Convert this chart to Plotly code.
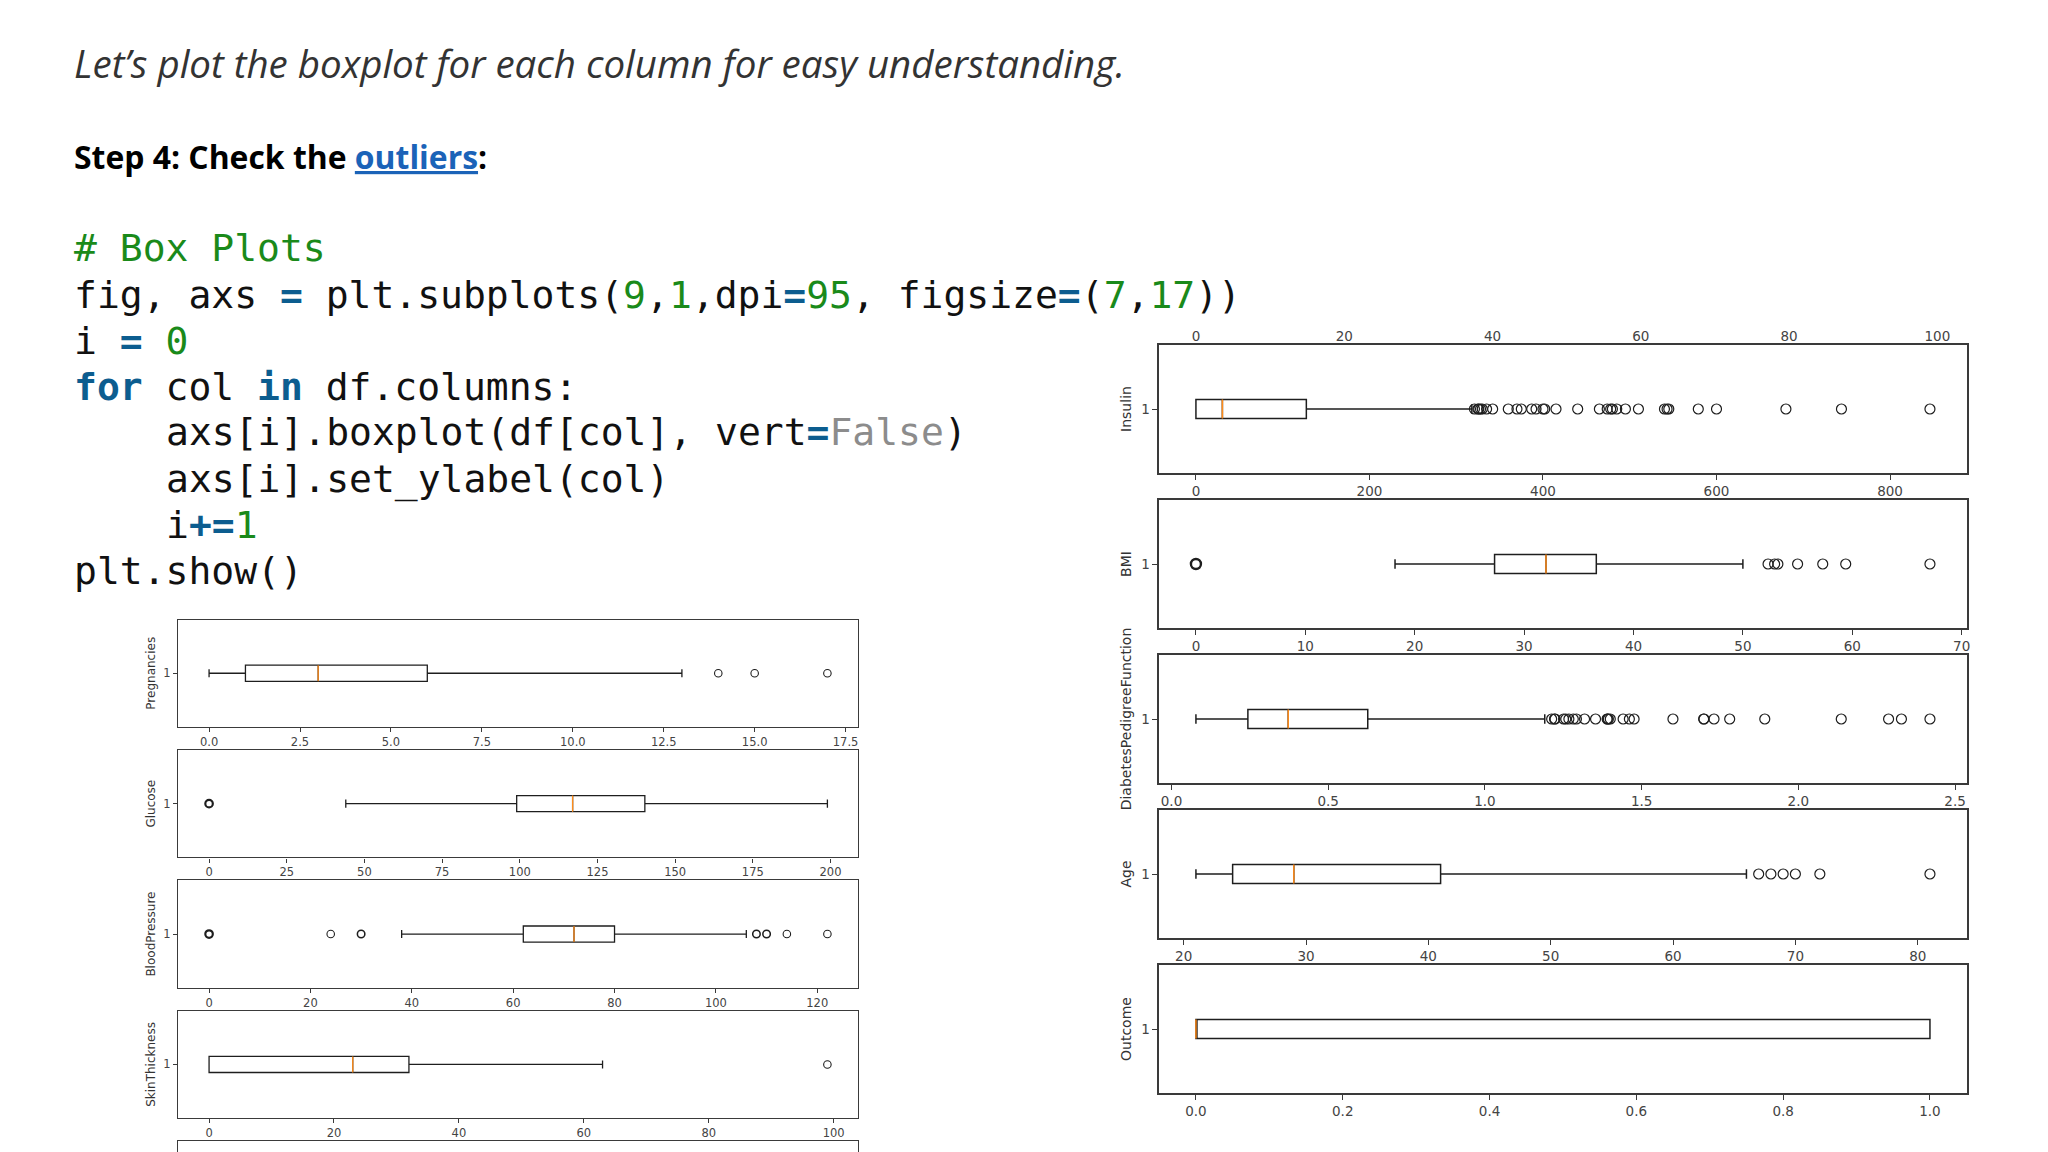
import plotly.graph_objects as go
from collections import Counter

W, H = 2048, 1152

# ---------------- data ----------------
columns = ["Pregnancies", "Glucose", "BloodPressure", "SkinThickness", "Insulin",
           "BMI", "DiabetesPedigreeFunction", "Age", "Outcome"]
q1 = [1, 99, 62, 0, 0, 27.3, 0.24375, 24, 0]
median = [3, 117, 72, 23, 30.5, 32.0, 0.3725, 29, 0]
q3 = [6, 140.25, 80, 32, 127.25, 36.6, 0.62625, 41, 1]
whisker_low = [0, 44, 38, 0, 0, 18.2, 0.078, 21, 0]
whisker_high = [13, 199, 106, 63, 318, 50.0, 1.191, 66, 1]

pregnancies_out = [14, 15, 17]
glucose_out = [0, 0, 0, 0, 0]
bloodpressure_out = [0, 0, 0, 0, 0, 24, 30, 30, 108, 108, 110, 110, 114, 122]
skinthickness_out = [99]
insulin_out = [321, 325, 326, 328, 330, 335, 342, 360, 370, 375, 387, 392, 400, 402,
               415, 440, 465, 474, 478, 480, 485, 495, 510, 540, 543, 545, 579, 600,
               680, 744, 846]
bmi_out = [0, 0, 0, 0, 0, 0, 0, 0, 0, 0, 0, 52.3, 52.9, 53.2, 55.0, 57.3, 59.4, 67.1]
dpf_out = [1.213, 1.222, 1.224, 1.251, 1.258, 1.268, 1.282, 1.292, 1.318, 1.353, 1.39,
           1.391, 1.394, 1.4, 1.441, 1.461, 1.476, 1.6, 1.698, 1.699, 1.731, 1.781,
           1.893, 2.137, 2.288, 2.329, 2.42]
age_out = [67, 68, 69, 70, 72, 81]
outcome_out = []
outliers = [pregnancies_out, glucose_out, bloodpressure_out, skinthickness_out,
            insulin_out, bmi_out, dpf_out, age_out, outcome_out]

x_dticks = [2.5, 25, 20, 20, 200, 10, 0.5, 10, 0.2]
x_formats = [".1f", "d", "d", "d", "d", "d", ".1f", "d", ".1f"]

box_width = 0.15

# ---------------- styles ----------------
FRAME = "#3a3a3a"
BOXC = "#1e1e1e"
TICKC = "#444444"
MED = "#ff8c1a"

fig = go.Figure()
layout = {}


def xrange_of(i):
    lo = min([whisker_low[i]] + outliers[i])
    hi = max([whisker_high[i]] + outliers[i])
    pad = 0.05 * (hi - lo)
    return [lo - pad, hi + pad]


def add_panel(k, i, x0, x1, top, h, s):
    xa = "x" if k == 1 else f"x{k}"
    ya = "y" if k == 1 else f"y{k}"
    fig.add_trace(go.Box(
        y=[1], q1=[q1[i]], median=[median[i]], q3=[q3[i]],
        lowerfence=[whisker_low[i]], upperfence=[whisker_high[i]],
        orientation="h", width=box_width, whiskerwidth=0.5,
        fillcolor="white", line=dict(color=BOXC, width=s["lw"]),
        boxpoints=False, xaxis=xa, yaxis=ya, hoverinfo="skip", showlegend=False))
    fig.add_trace(go.Scatter(
        x=[median[i], median[i]], y=[1 - box_width / 2, 1 + box_width / 2],
        mode="lines", line=dict(color=MED, width=s["mlw"]),
        xaxis=xa, yaxis=ya, hoverinfo="skip", showlegend=False))
    if outliers[i]:
        cnt = Counter(outliers[i])
        xs = list(cnt.keys())
        widths = [s["mkw"] * (2.0 if cnt[v] > 2 else (1.4 if cnt[v] == 2 else 1.0))
                  for v in xs]
        fig.add_trace(go.Scatter(
            x=xs, y=[1] * len(xs), mode="markers",
            marker=dict(symbol="circle-open", size=s["ms"], color=BOXC,
                        line=dict(width=widths, color=BOXC)),
            xaxis=xa, yaxis=ya, hoverinfo="skip", showlegend=False))
    sfx = "" if k == 1 else str(k)
    layout["xaxis" + sfx] = dict(
        domain=[x0 / W, x1 / W], anchor=ya, range=xrange_of(i),
        dtick=x_dticks[i], tick0=0, tickformat=x_formats[i],
        showline=True, mirror=True, linecolor=FRAME, linewidth=s["fw"],
        ticks="outside", ticklen=s["tl"], tickcolor=FRAME, tickwidth=1,
        tickfont=dict(family="DejaVu Sans", size=s["tf"], color=TICKC),
        showgrid=False, zeroline=False, fixedrange=True)
    layout["yaxis" + sfx] = dict(
        domain=[1 - (top + h) / H, 1 - top / H], anchor=xa, range=[0.5, 1.5],
        tickvals=[1], ticktext=["1"],
        showline=True, mirror=True, linecolor=FRAME, linewidth=s["fw"],
        ticks="outside", ticklen=s["tl"], tickcolor=FRAME, tickwidth=1,
        tickfont=dict(family="DejaVu Sans", size=s["tf"], color=TICKC),
        title=dict(text=columns[i], standoff=s["so"],
                   font=dict(family="DejaVu Sans", size=s["lf"], color="#333333")),
        showgrid=False, zeroline=False, fixedrange=True)


left_style = dict(lw=1.3, mlw=1.3, ms=7.5, mkw=1.1, fw=1.3, tl=4, tf=11.5, lf=12, so=5)
right_style = dict(lw=1.5, mlw=1.5, ms=10, mkw=1.2, fw=1.5, tl=5, tf=13.5, lf=14, so=6)

# left column: first four columns
L_X0, L_X1, L_TOP, L_H, L_STEP = 178.5, 860, 619.5, 107.5, 130.4
for n in range(4):
    add_panel(n + 1, n, L_X0, L_X1, L_TOP + n * L_STEP, L_H, left_style)

# right column: remaining five columns
R_X0, R_X1, R_TOP, R_H, R_STEP = 1161.5, 1970.5, 345, 128, 155.0
for n in range(5):
    add_panel(n + 5, n + 4, R_X0, R_X1, R_TOP + n * R_STEP, R_H, right_style)

# left column: sliver of next (Insulin) panel at bottom
sl_top = L_TOP + 4 * L_STEP
fig.add_trace(go.Scatter(x=insulin_out, y=[1] * len(insulin_out), mode="markers",
                         marker=dict(opacity=0), xaxis="x10", yaxis="y10",
                         hoverinfo="skip", showlegend=False))
layout["xaxis10"] = dict(domain=[L_X0 / W, L_X1 / W], anchor="y10", side="top",
                         showline=True, linecolor=FRAME, linewidth=1.3,
                         showticklabels=False, ticks="", showgrid=False, zeroline=False)
layout["yaxis10"] = dict(domain=[0, 1 - sl_top / H], anchor="x10", range=[0.5, 1.5],
                         showline=True, mirror=True, linecolor=FRAME, linewidth=1.3,
                         showticklabels=False, ticks="", showgrid=False, zeroline=False)

# right column: tick labels of the preceding SkinThickness panel (cropped above)
fig.add_trace(go.Scatter(x=skinthickness_out, y=[1], mode="markers",
                         marker=dict(opacity=0), xaxis="x11", yaxis="y11",
                         hoverinfo="skip", showlegend=False))
layout["xaxis11"] = dict(domain=[R_X0 / W, R_X1 / W], anchor="free",
                         position=1 - 326 / H, range=xrange_of(3), dtick=20, tick0=0,
                         showline=False, ticks="", showgrid=False, zeroline=False,
                         tickfont=dict(family="DejaVu Sans", size=13.5, color=TICKC))
layout["yaxis11"] = dict(domain=[0.9, 0.91], anchor="x11", visible=False)

# ---------------- slide text ----------------
annots = []
TX = 72 / W


def add_text(txt, y_px, size, family, x=TX, color="#111111"):
    annots.append(dict(text=txt, x=x, y=1 - y_px / H, xref="paper", yref="paper",
                       xanchor="left", yanchor="middle", showarrow=False,
                       font=dict(family=family, size=size, color=color)))


add_text("<i>Let’s plot the boxplot for each column for easy understanding.</i>",
         62.7, 38.5, "Open Sans", color="#333333")
add_text("<b>Step 4: Check the <span style='color:#1b63b8'><u>outliers</u></span>:</b>",
         156.7, 31.9, "Open Sans", color="#000000")

G = "#1a8a1a"
B = "#0c5d8f"
GR = "#8c8c8c"


def c(t, col, bold=False):
    s = f"<span style='color:{col}'>{t}</span>"
    return f"<b>{s}</b>" if bold else s


code_lines = [
    (c("# Box Plots", G), 0, 248),
    ("fig, axs " + c("=", B, True) + " plt.subplots(" + c("9", G) + "," + c("1", G)
     + ",dpi" + c("=", B, True) + c("95", G) + ", figsize" + c("=", B, True) + "("
     + c("7", G) + "," + c("17", G) + "))", 0, 295),
    ("i " + c("=", B, True) + " " + c("0", G), 0, 341),
    (c("for", B, True) + " col " + c("in", B, True) + " df.columns:", 0, 387),
    ("axs[i].boxplot(df[col], vert" + c("=", B, True) + c("False", GR) + ")", 1, 432),
    ("axs[i].set_ylabel(col)", 1, 479),
    ("i" + c("+=", B, True) + c("1", G), 1, 525),
    ("plt.show()", 0, 571),
]
for txt, ind, yp in code_lines:
    add_text(txt, yp, 38, "DejaVu Sans Mono", x=TX + ind * 92.5 / W)

layout.update(dict(width=W, height=H, margin=dict(l=0, r=0, t=0, b=0),
                   paper_bgcolor="white", plot_bgcolor="white",
                   showlegend=False, annotations=annots))
fig.update_layout(**layout)
fig.write_html("out.html", config={"displayModeBar": False},
               post_script="document.body.style.margin='0';document.body.style.overflow='hidden';")
